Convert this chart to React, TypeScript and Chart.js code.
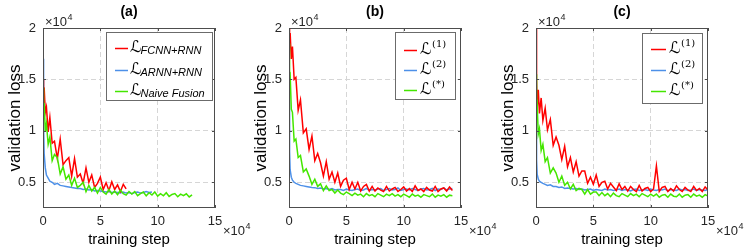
import React, { useEffect, useRef } from "react";
import { Chart, registerables } from "chart.js";

Chart.register(...registerables);

// ---- data (training step and loss in units of 1e4) ----
const STEPS = [
  0, 0.05, 0.1, 0.2, 0.3, 0.45, 0.6, 0.8,
  1.0, 1.25, 1.5, 1.75, 2.0, 2.25, 2.5, 2.75, 3.0, 3.25, 3.5, 3.75,
  4.0, 4.25, 4.5, 4.75, 5.0, 5.25, 5.5, 5.75, 6.0, 6.25, 6.5, 6.75,
  7.0, 7.25, 7.5, 7.75, 8.0, 8.25, 8.5, 8.75, 9.0, 9.25, 9.5, 9.75,
  10.0, 10.25, 10.5, 10.75, 11.0, 11.25, 11.5, 11.75, 12.0, 12.25, 12.5, 12.75,
  13.0, 13.25, 13.5, 13.75, 14.0, 14.25, 14.5, 14.75, 15.0,
];
const X_TICKS = [0, 5, 10, 15];
const Y_TICKS = [0.5, 1, 1.5, 2];

// panel (a)
const A_FCNN = [
  1.5, 1.25, 1.42, 1.18, 1.23, 0.99, 1.13, 0.88,
  0.9, 0.73, 0.92, 0.67, 0.71, 0.74, 0.56, 0.73, 0.55, 0.58, 0.49, 0.64,
  0.5, 0.57, 0.45, 0.49, 0.55, 0.43, 0.495, 0.42, 0.505, 0.43, 0.475, 0.41,
  0.48, 0.435,
];
const A_ARNN = [
  1.7, 1.05, 0.78, 0.64, 0.57, 0.54, 0.51, 0.5,
  0.48, 0.49, 0.47, 0.465, 0.46, 0.455, 0.45, 0.445, 0.44, 0.44, 0.43, 0.435,
  0.425, 0.43, 0.415, 0.42, 0.415, 0.41, 0.405, 0.41, 0.4, 0.405, 0.4, 0.395,
  0.405, 0.395, 0.4, 0.39, 0.4, 0.405, 0.395, 0.4, 0.41, 0.4, 0.405,
];
const A_NAIVE = [
  1.42, 1.17, 1.27, 1.0, 1.07, 0.87, 0.94, 0.71,
  0.77, 0.74, 0.58, 0.65, 0.53, 0.57, 0.47, 0.54, 0.45, 0.47, 0.5, 0.41,
  0.47, 0.415, 0.45, 0.395, 0.45, 0.405, 0.385, 0.43, 0.385, 0.415, 0.38, 0.425,
  0.39, 0.375, 0.41, 0.385, 0.41, 0.37, 0.39, 0.405, 0.368, 0.398, 0.376, 0.406,
  0.365, 0.39, 0.369, 0.399, 0.362, 0.382, 0.39, 0.36, 0.385, 0.37, 0.388, 0.358,
  0.378,
];

// panel (b)
const B_L1 = [
  2.0, 1.87, 1.95, 1.7, 1.82, 1.5, 1.52, 1.2,
  1.3, 0.98, 1.02, 0.82, 0.95, 0.71, 0.78, 0.69, 0.56, 0.7, 0.53, 0.6,
  0.5, 0.59, 0.46, 0.52, 0.54, 0.43, 0.5, 0.435, 0.5, 0.415, 0.46, 0.48,
  0.415, 0.46, 0.415, 0.445, 0.425, 0.41, 0.46, 0.415, 0.435, 0.45, 0.41, 0.43,
  0.455, 0.415, 0.44, 0.41, 0.465, 0.42, 0.435, 0.41, 0.45, 0.425, 0.415, 0.46,
  0.41, 0.435, 0.445, 0.415, 0.455, 0.42,
];
const B_L2 = [
  1.35, 0.8, 0.62, 0.55, 0.52, 0.5, 0.49, 0.48,
  0.47, 0.465, 0.46, 0.455, 0.45, 0.448, 0.44, 0.445, 0.435, 0.44, 0.43, 0.44,
  0.425, 0.43, 0.43, 0.42, 0.435, 0.425, 0.42, 0.43, 0.435, 0.42, 0.425, 0.44,
  0.42, 0.43, 0.425, 0.435, 0.44, 0.42, 0.43, 0.44, 0.425, 0.43, 0.445, 0.42,
  0.43, 0.435, 0.425, 0.44, 0.43, 0.42, 0.435, 0.44, 0.425, 0.43, 0.44, 0.42,
  0.435, 0.43, 0.445, 0.425, 0.435, 0.44,
];
const B_LS = [
  1.85, 1.54, 1.55, 1.21, 1.18, 0.9, 0.92, 0.74,
  0.76, 0.6, 0.63, 0.56, 0.48, 0.53, 0.46, 0.485, 0.42, 0.465, 0.42, 0.43,
  0.395, 0.425, 0.395, 0.38, 0.405, 0.39, 0.37, 0.395, 0.375, 0.385, 0.36, 0.39,
  0.37, 0.38, 0.36, 0.39, 0.375, 0.36, 0.385, 0.37, 0.39, 0.365, 0.38, 0.36,
  0.385, 0.37, 0.355, 0.385, 0.365, 0.375, 0.355, 0.38, 0.37, 0.36, 0.385, 0.355,
  0.375, 0.365, 0.38, 0.355, 0.375, 0.37,
];

// panel (c)
const C_L1 = [
  2.0, 1.5, 1.22, 1.4, 1.17, 1.32, 1.1, 1.22,
  1.01, 1.11, 0.86, 0.94, 0.86, 0.72, 0.85, 0.65, 0.74, 0.6, 0.7, 0.56,
  0.61, 0.61, 0.49, 0.55, 0.48, 0.57, 0.46, 0.5, 0.51, 0.435, 0.49, 0.455,
  0.42, 0.485, 0.43, 0.46, 0.415, 0.46, 0.43, 0.41, 0.47, 0.415, 0.44, 0.45,
  0.41, 0.435, 0.66, 0.41, 0.45, 0.46, 0.41, 0.44, 0.415, 0.465, 0.43, 0.41,
  0.45, 0.425, 0.41, 0.46, 0.42, 0.44, 0.41, 0.455, 0.425,
];
const C_L2 = [
  1.15, 0.72, 0.58, 0.53, 0.51, 0.5, 0.49, 0.48,
  0.47, 0.475, 0.46, 0.458, 0.45, 0.455, 0.44, 0.445, 0.44, 0.435, 0.44, 0.43,
  0.435, 0.425, 0.43, 0.435, 0.42, 0.43, 0.425, 0.42, 0.435, 0.425, 0.43, 0.42,
  0.425, 0.435, 0.42, 0.43, 0.425, 0.415, 0.43, 0.435, 0.42, 0.425, 0.43, 0.42,
  0.435, 0.425, 0.42, 0.43, 0.425, 0.435, 0.415, 0.43, 0.425, 0.42, 0.435, 0.425,
  0.43, 0.42, 0.425, 0.435, 0.42, 0.43, 0.425, 0.42, 0.43,
];
const C_LS = [
  1.55, 1.22, 1.25, 0.97, 1.02, 0.81, 0.87, 0.7,
  0.74, 0.59, 0.64, 0.59, 0.5, 0.56, 0.47, 0.5, 0.435, 0.48, 0.42, 0.44,
  0.43, 0.385, 0.43, 0.385, 0.405, 0.405, 0.37, 0.4, 0.37, 0.39, 0.36, 0.395,
  0.37, 0.36, 0.39, 0.375, 0.36, 0.39, 0.37, 0.385, 0.36, 0.39, 0.375, 0.36,
  0.385, 0.365, 0.385, 0.355, 0.375, 0.38, 0.355, 0.385, 0.365, 0.36, 0.385, 0.355,
  0.375, 0.38, 0.355, 0.385, 0.365, 0.375, 0.355, 0.38, 0.365,
];

const RED = "#ff0000";
const BLUE = "#4d90e8";
const GREEN = "#44e600";

// ---- layout ----
const H = 251;
const CW = 256;
const PLOT_LEFT = 43;
const PLOT_RIGHT = 215;
const PLOT_TOP = 28;
const PLOT_BOTTOM = 208;
const SANS = '"Liberation Sans", Arial, Helvetica, sans-serif';
const TEXT = "#262626";

type Series = { values: number[]; color: string; order: number; sub: string; sup: boolean };
type PanelSpec = {
  left: number;
  title: string;
  series: Series[];
  legend: { x0: number; y0: number; x1: number; y1: number; rows: number[]; lx0: number; lx1: number; tx: number };
};

const PANELS: PanelSpec[] = [
  {
    left: 0,
    title: "(a)",
    series: [
      { values: A_FCNN, color: RED, order: 1, sub: "FCNN+RNN", sup: false },
      { values: A_ARNN, color: BLUE, order: 2, sub: "ARNN+RNN", sup: false },
      { values: A_NAIVE, color: GREEN, order: 0, sub: "Naive Fusion", sup: false },
    ],
    legend: { x0: 106, y0: 32, x1: 212, y1: 100, rows: [48, 70, 91], lx0: 115, lx1: 128, tx: 130 },
  },
  {
    left: 246,
    title: "(b)",
    series: [
      { values: B_L1, color: RED, order: 1, sub: "(1)", sup: true },
      { values: B_L2, color: BLUE, order: 2, sub: "(2)", sup: true },
      { values: B_LS, color: GREEN, order: 0, sub: "(*)", sup: true },
    ],
    legend: { x0: 149, y0: 32, x1: 209, y1: 99, rows: [50, 70, 90], lx0: 158, lx1: 171, tx: 174 },
  },
  {
    left: 493,
    title: "(c)",
    series: [
      { values: C_L1, color: RED, order: 1, sub: "(1)", sup: true },
      { values: C_L2, color: BLUE, order: 2, sub: "(2)", sup: true },
      { values: C_LS, color: GREEN, order: 0, sub: "(*)", sup: true },
    ],
    legend: { x0: 149, y0: 33, x1: 209, y1: 103, rows: [49, 70, 91], lx0: 158, lx1: 173, tx: 176 },
  },
];

function makeDecor(spec: PanelSpec) {
  return {
    id: "decor" + spec.title,
    afterDraw(chart: any) {
      const ctx = chart.ctx as CanvasRenderingContext2D;
      const { left, right, top, bottom } = chart.chartArea;
      const xs = chart.scales.x;
      const ys = chart.scales.y;
      ctx.save();
      // box
      ctx.strokeStyle = "#4d4d4d";
      ctx.lineWidth = 1;
      ctx.strokeRect(Math.round(left) + 0.5, Math.round(top) + 0.5, Math.round(right - left) - 1, Math.round(bottom - top) - 1);
      // inward ticks
      ctx.beginPath();
      for (const v of X_TICKS) {
        const px = Math.round(xs.getPixelForValue(v)) + 0.5;
        ctx.moveTo(px, bottom);
        ctx.lineTo(px, bottom - 3);
        ctx.moveTo(px, top);
        ctx.lineTo(px, top + 3);
      }
      for (const v of Y_TICKS) {
        const py = Math.round(ys.getPixelForValue(v)) + 0.5;
        ctx.moveTo(left, py);
        ctx.lineTo(left + 3, py);
        ctx.moveTo(right, py);
        ctx.lineTo(right - 3, py);
      }
      ctx.stroke();
      // title
      ctx.fillStyle = "#000";
      ctx.font = "bold 14px " + SANS;
      ctx.textAlign = "center";
      ctx.textBaseline = "middle";
      ctx.fillText(spec.title, (left + right) / 2, 12);
      // exponent labels
      ctx.fillStyle = TEXT;
      ctx.textAlign = "left";
      ctx.textBaseline = "alphabetic";
      ctx.font = "13px " + SANS;
      const w = ctx.measureText("×10").width;
      ctx.fillText("×10", left + 2, 26);
      ctx.fillText("×10", right + 8, 235);
      ctx.font = "9px " + SANS;
      ctx.fillText("4", left + 2 + w + 0.5, 20);
      ctx.fillText("4", right + 8 + w + 0.5, 229);
      // legend
      const L = spec.legend;
      ctx.fillStyle = "#fff";
      ctx.fillRect(L.x0, L.y0, L.x1 - L.x0, L.y1 - L.y0);
      ctx.strokeStyle = "#6b6b6b";
      ctx.strokeRect(L.x0 + 0.5, L.y0 + 0.5, L.x1 - L.x0, L.y1 - L.y0);
      spec.series.forEach((s, i) => {
        const ry = L.rows[i];
        ctx.strokeStyle = s.color;
        ctx.lineWidth = 1.5;
        ctx.beginPath();
        ctx.moveTo(L.lx0, ry + 0.5);
        ctx.lineTo(L.lx1, ry + 0.5);
        ctx.stroke();
        ctx.fillStyle = "#000";
        ctx.font = '16px "DejaVu Serif", "DejaVu Sans", serif';
        ctx.fillText("ℒ", L.tx, ry + 4);
        const lw = ctx.measureText("ℒ").width;
        if (s.sup) {
          ctx.font = '10px "DejaVu Serif", serif';
          ctx.fillText(s.sub, L.tx + lw + 0.5, ry - 3);
        } else {
          ctx.font = "italic 11px " + SANS;
          ctx.fillText(s.sub, L.tx + lw - 1, ry + 6);
        }
      });
      ctx.restore();
    },
  };
}

function Panel({ spec }: { spec: PanelSpec }) {
  const ref = useRef<HTMLCanvasElement>(null);
  useEffect(() => {
    const canvas = ref.current!;
    const datasets = spec.series.map((s) => ({
      label: s.sub,
      data: s.values.map((v, i) => ({ x: STEPS[i], y: v })),
      borderColor: s.color,
      backgroundColor: s.color,
      borderWidth: 1.5,
      pointRadius: 0,
      tension: 0,
      order: s.order,
    }));
    const interior = (lo: number, hi: number) => (c: any) =>
      c.tick && c.tick.value > lo && c.tick.value < hi ? "#d6d6d6" : "rgba(0,0,0,0)";
    const chart = new Chart(canvas, {
      type: "line",
      data: { datasets },
      options: {
        animation: false,
        responsive: false,
        devicePixelRatio: 1,
        parsing: false as any,
        layout: { padding: { top: PLOT_TOP, right: CW - PLOT_RIGHT, left: 0, bottom: 0 } },
        plugins: { legend: { display: false }, tooltip: { enabled: false }, title: { display: false } },
        scales: {
          x: {
            type: "linear",
            min: 0,
            max: 15,
            afterBuildTicks: (s: any) => {
              s.ticks = X_TICKS.map((v) => ({ value: v }));
            },
            afterFit: (s: any) => {
              s.height = H - PLOT_BOTTOM;
            },
            ticks: {
              padding: 6,
              maxRotation: 0,
              autoSkip: false,
              color: TEXT,
              font: { family: SANS, size: 13 },
              callback: (v: any) => String(v),
            },
            grid: { drawTicks: false, color: interior(0, 15), lineWidth: 1 },
            border: { display: false, dash: [5, 3] },
            title: {
              display: true,
              text: "training step",
              color: "#000",
              font: { family: SANS, size: 15 },
              padding: { top: 0, bottom: 2 },
            },
          },
          y: {
            type: "linear",
            min: 0.25,
            max: 2,
            afterBuildTicks: (s: any) => {
              s.ticks = Y_TICKS.map((v) => ({ value: v }));
            },
            afterFit: (s: any) => {
              s.width = PLOT_LEFT;
            },
            ticks: {
              padding: 7,
              color: TEXT,
              font: { family: SANS, size: 13 },
              callback: (v: any) => String(v),
            },
            grid: { drawTicks: false, color: interior(0.25, 2), lineWidth: 1 },
            border: { display: false, dash: [5, 3] },
            title: {
              display: true,
              text: "validation loss",
              color: "#000",
              font: { family: SANS, size: 17 },
              padding: { top: 5, bottom: 0 },
            },
          },
        },
      },
      plugins: [makeDecor(spec)],
    } as any);
    return () => chart.destroy();
  }, [spec]);
  return (
    <canvas
      ref={ref}
      width={CW}
      height={H}
      style={{ position: "absolute", left: spec.left, top: 0, width: CW, height: H }}
    />
  );
}

export default function App() {
  return (
    <div
      style={{
        position: "fixed",
        left: 0,
        top: 0,
        width: 748,
        height: H,
        background: "#fff",
        overflow: "hidden",
      }}
    >
      {PANELS.map((p) => (
        <Panel key={p.title} spec={p} />
      ))}
    </div>
  );
}
